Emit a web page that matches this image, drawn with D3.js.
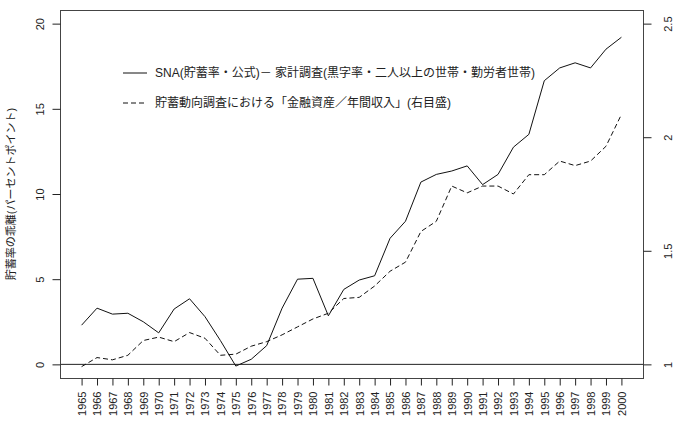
<!DOCTYPE html>
<html>
<head>
<meta charset="utf-8">
<script src="https://cdn.jsdelivr.net/npm/d3@7"></script>
<style>
  body { margin: 0; background: #fff; }
  text { font-family: "Liberation Sans", "Noto Sans CJK JP", sans-serif; fill: #222; }
</style>
</head>
<body>
<div id="chart"></div>
<script>
var years = d3.range(1965, 2001);

// SNA - 家計調査 (left axis, percentage points)
var snaGap = [2.3, 3.3, 2.95, 3.0, 2.5, 1.85, 3.25, 3.85, 2.8, 1.4,
              -0.1, 0.3, 1.1, 3.3, 5.0, 5.05, 2.85, 4.4, 4.95, 5.2,
              7.4, 8.4, 10.7, 11.15, 11.35, 11.65, 10.55, 11.15, 12.75, 13.5,
              16.65, 17.4, 17.7, 17.4, 18.5, 19.2];

// 貯蓄動向調査 金融資産/年間収入 (right axis)
var assetRatio = [0.99, 1.03, 1.02, 1.04, 1.105, 1.12, 1.10, 1.14, 1.115, 1.04,
                  1.045, 1.08, 1.10, 1.13, 1.165, 1.20, 1.225, 1.29, 1.295, 1.345,
                  1.41, 1.45, 1.585, 1.63, 1.785, 1.755, 1.785, 1.785, 1.75, 1.835,
                  1.835, 1.895, 1.875, 1.895, 1.96, 2.1];

var leftTicks = [0, 5, 10, 15, 20];
var rightTicks = [1, 1.5, 2, 2.5];

var legendLabels = [
  "SNA(貯蓄率・公式)－ 家計調査(黒字率・二人以上の世帯・勤労者世帯)",
  "貯蓄動向調査における「金融資産／年間収入」(右目盛)"
];
var yTitle = "貯蓄率の乖離(パーセントポイント)";

var width = 682, height = 422;
var plotL = 60, plotR = 643, plotT = 10, plotB = 378;

var svg = d3.select("#chart").append("svg")
    .attr("width", width)
    .attr("height", height);

svg.append("rect").attr("width", width).attr("height", height).attr("fill", "#fff");

var x = d3.scaleLinear().domain([1963.6, 2001.4]).range([plotL, plotR]);
var yL = d3.scaleLinear().domain([-0.8, 20.8]).range([plotB, plotT]);
var yR = d3.scaleLinear().domain([0.94, 2.56]).range([plotB, plotT]);

// zero line
svg.append("line")
    .attr("x1", plotL).attr("x2", plotR)
    .attr("y1", yL(0)).attr("y2", yL(0))
    .attr("stroke", "#222").attr("stroke-width", 1);

var lineL = d3.line().x(function(d, i) { return x(years[i]); }).y(function(d) { return yL(d); });
var lineR = d3.line().x(function(d, i) { return x(years[i]); }).y(function(d) { return yR(d); });

svg.append("path").datum(snaGap)
    .attr("d", lineL)
    .attr("fill", "none").attr("stroke", "#111").attr("stroke-width", 1);

svg.append("path").datum(assetRatio)
    .attr("d", lineR)
    .attr("fill", "none").attr("stroke", "#111").attr("stroke-width", 1)
    .attr("stroke-dasharray", "5,3");

// box
svg.append("rect")
    .attr("x", plotL + 0.5).attr("y", plotT + 0.5)
    .attr("width", plotR - plotL).attr("height", plotB - plotT)
    .attr("fill", "none").attr("stroke", "#444").attr("stroke-width", 1);

// bottom axis
var xAxis = svg.append("g")
    .attr("transform", "translate(0," + (plotB + 0.5) + ")")
    .call(d3.axisBottom(x).tickValues(years).tickSize(7).tickFormat(d3.format("d")));
xAxis.select(".domain").remove();
xAxis.selectAll("line").attr("stroke", "#222");
xAxis.selectAll("text")
    .attr("font-size", "11px")
    .attr("text-anchor", "end")
    .attr("transform", "rotate(-90)")
    .attr("x", -13).attr("y", 0).attr("dy", "0.35em");

// left axis
var yAxisL = svg.append("g")
    .attr("transform", "translate(" + (plotL + 0.5) + ",0)")
    .call(d3.axisLeft(yL).tickValues(leftTicks).tickSize(8).tickFormat(d3.format("d")));
yAxisL.select(".domain").remove();
yAxisL.selectAll("line").attr("stroke", "#222");
yAxisL.selectAll("text")
    .attr("font-size", "11px")
    .attr("text-anchor", "middle")
    .attr("x", 0).attr("y", 0).attr("dy", "0.35em")
    .attr("transform", "translate(-20,0) rotate(-90)");

// right axis
var yAxisR = svg.append("g")
    .attr("transform", "translate(" + (plotR + 0.5) + ",0)")
    .call(d3.axisRight(yR).tickValues(rightTicks).tickSize(8).tickFormat(function(d) { return String(d); }));
yAxisR.select(".domain").remove();
yAxisR.selectAll("line").attr("stroke", "#222");
yAxisR.selectAll("text")
    .attr("font-size", "11px")
    .attr("text-anchor", "middle")
    .attr("x", 0).attr("y", 0).attr("dy", "0.35em")
    .attr("transform", "translate(25,0) rotate(-90)");

// y title
svg.append("text")
    .attr("transform", "translate(11," + ((plotT + plotB) / 2) + ") rotate(-90)")
    .attr("text-anchor", "middle")
    .attr("dy", "0.35em")
    .attr("font-size", "11px")
    .text(yTitle);

// legend
var legend = svg.append("g");
legendLabels.forEach(function(label, i) {
  var ly = 73 + i * 30;
  legend.append("line")
      .attr("x1", 123).attr("x2", 147)
      .attr("y1", ly).attr("y2", ly)
      .attr("stroke", "#111").attr("stroke-width", 1)
      .attr("stroke-dasharray", i == 1 ? "5,3" : null);
  legend.append("text")
      .attr("x", 155).attr("y", ly)
      .attr("dy", "0.35em")
      .attr("font-size", "12px")
      .text(label);
});
</script>
</body>
</html>
